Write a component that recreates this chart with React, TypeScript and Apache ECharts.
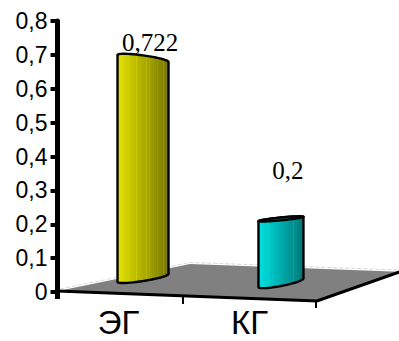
import React, { useEffect, useRef } from "react";
import * as echarts from "echarts";

const categories = ["ЭГ", "КГ"];
const values = [0.722, 0.2];
const yMin = 0;
const yMax = 0.8;
const yStep = 0.1;

const barColors: [number[], number[]][] = [
  [[228, 228, 0], [118, 118, 0]],
  [[0, 226, 226], [0, 118, 118]],
];

function stripeStops(c1: number[], c2: number[]) {
  const stripes = [0.22, 0.3, 0.37, 0.44, 0.5, 0.57, 0.63, 0.7, 0.78, 0.85, 0.9];
  const lerp = (p: number) => c1.map((a, j) => Math.round(a + (c2[j] - a) * p));
  const toC = (arr: number[], add = 0) =>
    `rgb(${arr.map((v) => (v === 0 ? 0 : Math.min(255, v + add))).join(",")})`;
  const stops: { offset: number; color: string }[] = [{ offset: 0, color: toC(lerp(0)) }];
  for (const p of stripes) {
    stops.push({ offset: p - 0.006, color: toC(lerp(p)) });
    stops.push({ offset: p, color: toC(lerp(p), 28) });
    stops.push({ offset: p + 0.006, color: toC(lerp(p)) });
  }
  stops.push({ offset: 1, color: toC(lerp(1)) });
  return stops;
}

const fmt = (v: number) => String(Number(v.toFixed(3))).replace(".", ",");

export default function App() {
  const ref = useRef<HTMLDivElement>(null);
  useEffect(() => {
    document.body.style.margin = "0";
    const chart = echarts.init(ref.current!, undefined, { renderer: "svg" });
    const renderItem = (params: any, api: any) => {
      const i = api.value(0);
      const v = api.value(1);
      const B = api.coord([i, 0]);
      const T = api.coord([i, v]);
      const cx = 1.053 * B[0] + 13.5;
      const d = cx - 142.5;
      const w = 25.5 - 0.0217 * d;
      const yb = B[1] + 0.035 * (cx - 60) - 17;
      const s = -0.157 - 0.00024 * d;
      const kc = 0.8975 + 0.000316 * d;
      const kd = 0.0305;
      const h = B[1] - T[1];
      const lbY = yb - s * w;
      const rbY = yb + s * w;
      const ltY = lbY - h * (kc + kd);
      const rtY = rbY - h * (kc - kd);
      const ct = (ltY + rtY) / 2;
      const st = (rtY - ltY) / (2 * w);
      const eOf = (y: number) => (y - 165) * 0.028;
      const eb = Math.max(0.5, eOf(yb));
      const et = eOf(ct);
      const N = 24;
      const pts: number[][] = [];
      for (let k = 0; k <= N; k++) {
        const t = Math.PI - (Math.PI * k) / N;
        pts.push([cx + w * Math.cos(t), yb + s * w * Math.cos(t) + eb * Math.sin(t)]);
      }
      for (let k = 0; k <= N; k++) {
        const t = (Math.PI * k) / N;
        pts.push([cx + w * Math.cos(t), ct + st * w * Math.cos(t) - Math.abs(et) * Math.sin(t)]);
      }
      const [c1, c2] = barColors[i % barColors.length];
      const children: any[] = [
        {
          type: "polygon",
          shape: { points: pts },
          style: {
            fill: new echarts.graphic.LinearGradient(0, 0, 1, 0, stripeStops(c1, c2)),
            stroke: "#000",
            lineWidth: 2.4,
            lineJoin: "round",
          },
        },
      ];
      if (et > 0) {
        const ep: number[][] = [];
        for (let k = 0; k < 48; k++) {
          const t = (2 * Math.PI * k) / 48;
          ep.push([cx + w * Math.cos(t), ct + st * w * Math.cos(t) + et * Math.sin(t)]);
        }
        children.push({
          type: "polygon",
          shape: { points: ep },
          style: { fill: "#0b3f3f", stroke: "#000", lineWidth: 2.2 },
        });
      }
      const labelBase = 0.8 * ct + 3.6;
      children.push({
        type: "text",
        style: {
          text: fmt(v),
          x: cx + 7,
          y: labelBase - 8,
          align: "center",
          verticalAlign: "middle",
          font: '25px "Liberation Serif"',
          fill: "#000",
        },
      });
      return { type: "group", children };
    };

    chart.setOption({
      animation: false,
      backgroundColor: "#fff",
      grid: { left: 57.5, top: 21, width: 262, bottom: 49 },
      xAxis: {
        type: "category",
        data: categories,
        axisLine: { show: false },
        axisTick: { show: false },
        axisLabel: {
          color: "#000",
          fontFamily: "Liberation Sans",
          fontSize: 33,
          lineHeight: 34,
          margin: 13,
          padding: [0, 9, 0, 0],
        },
      },
      yAxis: {
        type: "value",
        min: yMin,
        max: yMax,
        interval: yStep,
        axisLine: { show: true, lineStyle: { color: "#000", width: 5 } },
        axisTick: { show: true, length: 7, lineStyle: { color: "#000", width: 4 } },
        splitLine: { show: false },
        axisLabel: {
          color: "#000",
          fontFamily: "Liberation Sans",
          fontSize: 23,
          margin: 10,
          formatter: (val: number) => String(Number(val.toFixed(1))).replace(".", ","),
        },
      },
      graphic: [
        {
          type: "polygon",
          z: 0,
          shape: { points: [[58, 291], [190, 264], [400, 271.7], [317, 301]] },
          style: { fill: "#808080" },
        },
        {
          type: "polyline",
          z: 1,
          shape: { points: [[60, 289], [190, 262.5], [399, 270]] },
          style: { stroke: "#d8d8d8", lineWidth: 1, lineDash: [4, 2], fill: null },
        },
        {
          type: "polyline",
          z: 1,
          shape: { points: [[57, 291], [317, 301], [400, 271.7]] },
          style: { stroke: "#000", lineWidth: 3, fill: null },
        },
        {
          type: "line",
          z: 1,
          shape: { x1: 57.5, y1: 290, x2: 57.5, y2: 299 },
          style: { stroke: "#000", lineWidth: 5 },
        },
        {
          type: "line",
          z: 1,
          shape: { x1: 183, y1: 296, x2: 183, y2: 304 },
          style: { stroke: "#000", lineWidth: 2 },
        },
        {
          type: "line",
          z: 1,
          shape: { x1: 316, y1: 300, x2: 316, y2: 308 },
          style: { stroke: "#000", lineWidth: 2 },
        },
      ],
      series: [
        {
          type: "custom",
          z: 5,
          renderItem,
          data: categories.map((c, i) => [i, values[i]]),
        },
      ],
    });
    return () => chart.dispose();
  }, []);
  return <div ref={ref} style={{ width: 399, height: 341 }} />;
}
